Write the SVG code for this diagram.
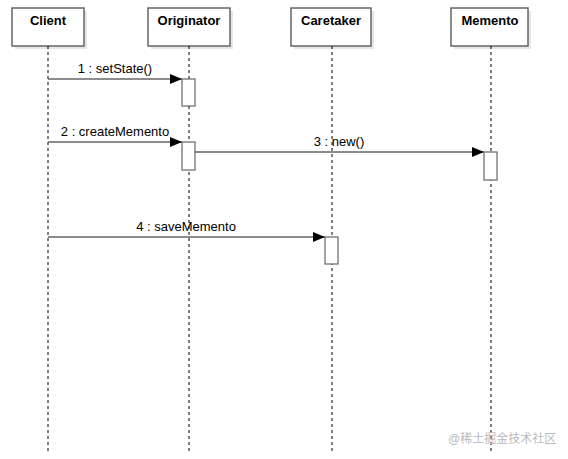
<svg xmlns="http://www.w3.org/2000/svg" width="568" height="459" viewBox="0 0 568 459">
<style>
.box{fill:#fff;stroke:#666;stroke-width:1.5}
.shadow{fill:#e6e6e6}
.title{font-family:"Liberation Sans",Arial,sans-serif;font-size:13px;font-weight:bold;fill:#000;text-anchor:middle}
.life{stroke:#000;stroke-width:1;stroke-dasharray:3,3;fill:none}
.act{fill:#fff;stroke:#666;stroke-width:1.2}
.msg{stroke:#666;stroke-width:1.3;fill:none}
.lbl{font-family:"Liberation Sans",Arial,sans-serif;font-size:13px;fill:#000;text-anchor:middle}
.wm{font-family:"Liberation Sans","Noto Sans CJK SC",sans-serif;font-size:12px;fill:#bbb}
</style>
<defs>
<marker id="ah" markerWidth="12" markerHeight="10" refX="12" refY="5" orient="auto" markerUnits="userSpaceOnUse">
<path d="M0,0 L12,5 L0,10 Z" fill="#000"/>
</marker>
</defs>
<rect width="568" height="459" fill="#fff"/>
<g id="client">
<rect class="shadow" x="15" y="11" width="72" height="38"/>
<rect class="box" x="12" y="8" width="72" height="38"/>
<text class="title" x="48" y="25">Client</text>
<line class="life" x1="48" y1="46" x2="48" y2="452"/>
</g>
<g id="originator">
<rect class="shadow" x="151" y="11" width="82" height="38"/>
<rect class="box" x="148" y="8" width="82" height="38"/>
<text class="title" x="189" y="25">Originator</text>
<line class="life" x1="189" y1="46" x2="189" y2="452"/>
<rect class="act" x="182" y="79" width="13" height="27"/>
<rect class="act" x="182" y="142" width="13" height="28"/>
</g>
<g id="caretaker">
<rect class="shadow" x="294" y="11" width="80" height="38"/>
<rect class="box" x="291" y="8" width="80" height="38"/>
<text class="title" x="331" y="25">Caretaker</text>
<line class="life" x1="332" y1="46" x2="332" y2="452"/>
<rect class="act" x="325" y="237" width="13" height="27"/>
</g>
<g id="memento">
<rect class="shadow" x="454" y="11" width="77" height="38"/>
<rect class="box" x="451" y="8" width="77" height="38"/>
<text class="title" x="490" y="25">Memento</text>
<line class="life" x1="491" y1="46" x2="491" y2="452"/>
<rect class="act" x="484" y="152" width="13" height="28"/>
</g>
<g id="connectors">
<line class="msg" x1="48" y1="79" x2="182" y2="79" marker-end="url(#ah)"/>
<text class="lbl" x="115" y="73">1 : setState()</text>
<line class="msg" x1="48" y1="142" x2="182" y2="142" marker-end="url(#ah)"/>
<text class="lbl" x="115" y="136">2 : createMemento</text>
<line class="msg" x1="195" y1="152" x2="484" y2="152" marker-end="url(#ah)"/>
<text class="lbl" x="339" y="146">3 : new()</text>
<line class="msg" x1="48" y1="237" x2="325" y2="237" marker-end="url(#ah)"/>
<text class="lbl" x="186" y="231">4 : saveMemento</text>
</g>
<text class="wm" x="448" y="443">@稀土掘金技术社区</text>
</svg>
